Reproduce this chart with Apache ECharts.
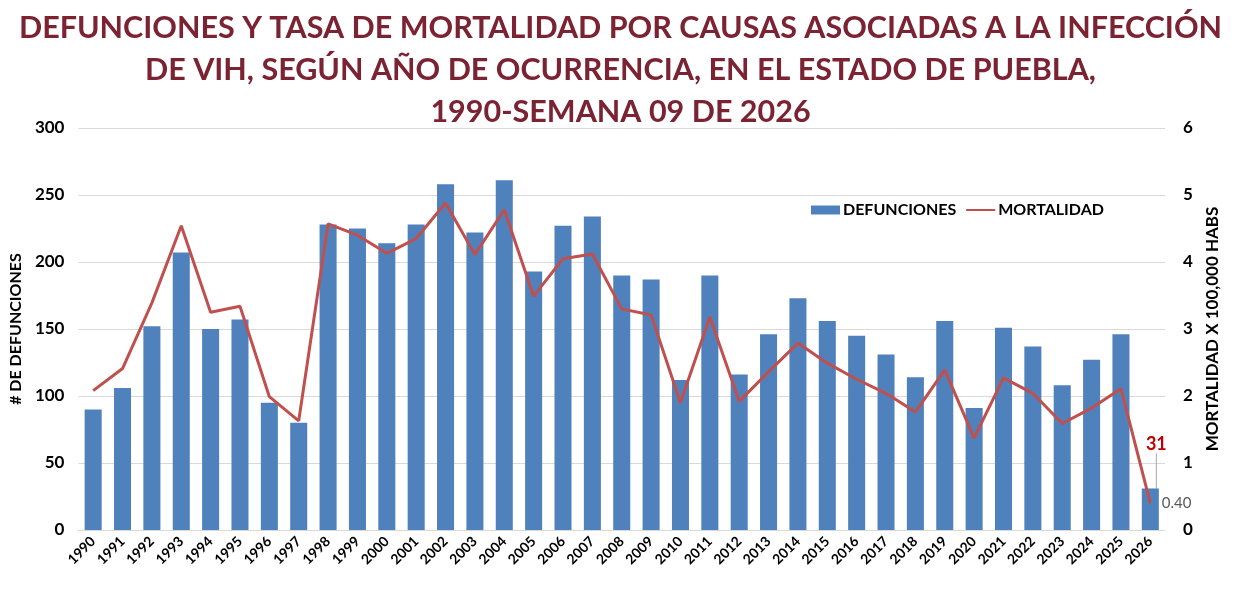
<!DOCTYPE html>
<html>
<head>
<meta charset="utf-8">
<title>Defunciones VIH Puebla</title>
<script src="https://cdn.jsdelivr.net/npm/echarts@6/dist/echarts.min.js"></script>
<style>
  html, body { margin: 0; padding: 0; background: #fff; }
  #chart { width: 1241px; height: 593px; }
</style>
</head>
<body>
<div id="chart"></div>
<script>
var years = ['1990','1991','1992','1993','1994','1995','1996','1997','1998','1999',
             '2000','2001','2002','2003','2004','2005','2006','2007','2008','2009',
             '2010','2011','2012','2013','2014','2015','2016','2017','2018','2019',
             '2020','2021','2022','2023','2024','2025','2026'];
var defunciones = [90, 106, 152, 207, 150, 157, 95, 80, 228, 225,
                   214, 228, 258, 222, 261, 193, 227, 234, 190, 187,
                   112, 190, 116, 146, 173, 156, 145, 131, 114, 156,
                   91, 151, 137, 108, 127, 146, 31];
var mortalidad = [2.08, 2.41, 3.39, 4.54, 3.25, 3.34, 1.99, 1.63, 4.57, 4.40,
                  4.13, 4.35, 4.88, 4.11, 4.78, 3.49, 4.05, 4.12, 3.30, 3.21,
                  1.90, 3.18, 1.92, 2.36, 2.79, 2.49, 2.25, 2.04, 1.76, 2.39,
                  1.37, 2.27, 2.04, 1.59, 1.82, 2.11, 0.40];
var leftTicks = [0, 50, 300];   // min, interval, max
var rightTicks = [0, 1, 6];

var FONT = 'Lato';
var last = years.length - 1;

// solo el último año lleva etiqueta
var barData = defunciones.map(function (v, i) {
    if (i !== last) return v;
    return {
        value: v,
        label: {
            show: true,
            position: 'top',
            formatter: String(v),
            color: '#C00000',
            fontFamily: FONT,
            fontWeight: 'bold',
            fontSize: 18
        },
        labelLine: { show: true, lineStyle: { color: '#A6A6A6', width: 1 } }
    };
});

var lineData = mortalidad.map(function (v, i) {
    if (i !== last) return v;
    return {
        value: v,
        symbol: 'circle',
        symbolSize: 1,
        label: {
            show: true,
            position: 'right',
            distance: 11,
            formatter: v.toFixed(2),
            color: '#595959',
            fontFamily: FONT,
            fontSize: 15
        }
    };
});

// icono de línea delgada para la leyenda (los M fijan la caja 29x9)
var lineIcon = 'path://M0,0 M29,9 M0,3.5 L29,3.5 L29,5.5 L0,5.5 Z';

var myChart = echarts.init(document.getElementById('chart'));
var option = {
    animation: false,
    textStyle: { fontFamily: FONT },
    title: {
        text: 'DEFUNCIONES Y TASA DE MORTALIDAD POR CAUSAS ASOCIADAS A LA INFECCIÓN\nDE VIH, SEGÚN AÑO DE OCURRENCIA, EN EL ESTADO DE PUEBLA,\n1990-SEMANA 09 DE 2026',
        left: 'center',
        top: 2,
        textStyle: {
            fontFamily: FONT,
            fontWeight: 'bold',
            fontSize: 30.5,
            lineHeight: 42,
            color: '#7B2332'
        }
    },
    legend: {
        left: 806,
        top: 197,
        itemWidth: 29,
        itemHeight: 9,
        itemGap: 10,
        textStyle: { fontFamily: FONT, fontWeight: 'bold', fontSize: 16, color: '#000', padding: [0, 0, 0, -2] },
        data: [
            { name: 'DEFUNCIONES', icon: 'rect' },
            { name: 'MORTALIDAD', icon: lineIcon }
        ]
    },
    grid: { left: 75, right: 76, top: 128, bottom: 63 },
    xAxis: {
        type: 'category',
        data: years,
        axisTick: { show: false },
        axisLine: { lineStyle: { color: '#D9D9D9' } },
        axisLabel: {
            interval: 0,
            rotate: 45,
            margin: 9,
            color: '#000',
            fontFamily: FONT,
            fontWeight: 'bold',
            fontSize: 14
        }
    },
    yAxis: [
        {
            type: 'value',
            min: leftTicks[0],
            interval: leftTicks[1],
            max: leftTicks[2],
            name: '# DE DEFUNCIONES',
            nameLocation: 'middle',
            nameGap: 52,
            nameTextStyle: { fontFamily: FONT, fontWeight: 'bold', fontSize: 16, color: '#000' },
            axisLabel: { color: '#000', fontFamily: FONT, fontWeight: 'bold', fontSize: 17, margin: 14 },
            splitLine: { lineStyle: { color: '#D9D9D9' } }
        },
        {
            type: 'value',
            min: rightTicks[0],
            interval: rightTicks[1],
            max: rightTicks[2],
            name: 'MORTALIDAD X 100,000 HABS',
            nameLocation: 'middle',
            nameGap: 37,
            nameRotate: 90,
            nameTextStyle: { fontFamily: FONT, fontWeight: 'bold', fontSize: 17, color: '#000' },
            axisLabel: { color: '#000', fontFamily: FONT, fontWeight: 'bold', fontSize: 17, margin: 18 },
            splitLine: { show: false }
        }
    ],
    series: [
        {
            name: 'DEFUNCIONES',
            type: 'bar',
            barCategoryGap: '42%',
            itemStyle: { color: '#4F81BD' },
            data: barData,
            labelLayout: { dx: 6, dy: -30 }
        },
        {
            name: 'MORTALIDAD',
            type: 'line',
            yAxisIndex: 1,
            symbol: 'none',
            lineStyle: { color: '#C0504D', width: 3 },
            itemStyle: { color: '#C0504D' },
            data: lineData
        }
    ]
};
myChart.setOption(option);
</script>
</body>
</html>
